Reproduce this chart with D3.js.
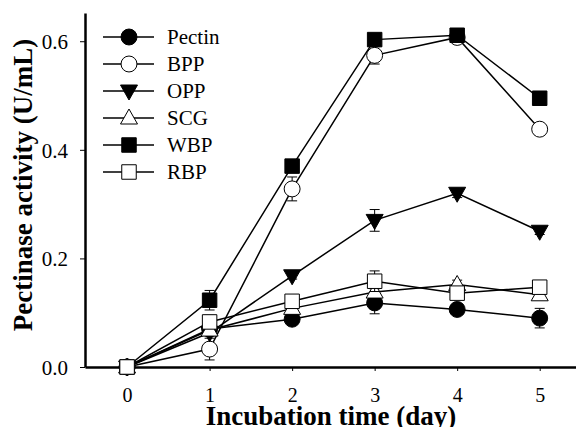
<!DOCTYPE html>
<html>
<head>
<meta charset="utf-8">
<script src="https://cdn.jsdelivr.net/npm/d3@7"></script>
<style>
  body { margin: 0; background: #fff; }
  text { font-family: "Liberation Serif", "Times New Roman", serif; }
</style>
</head>
<body>
<div id="chart"></div>
<script>
// incubation days
var days = [0, 1, 2, 3, 4, 5];

// series values (U/mL)
var pectin = [0, 0.070, 0.088, 0.118, 0.106, 0.090];
var bpp    = [0, 0.033, 0.328, 0.574, 0.607, 0.438];
var opp    = [0, 0.063, 0.168, 0.270, 0.320, 0.250];
var scg    = [0, 0.068, 0.108, 0.138, 0.152, 0.133];
var wbp    = [0, 0.123, 0.370, 0.603, 0.611, 0.495];
var rbp    = [0, 0.083, 0.121, 0.158, 0.136, 0.147];

// error bars (+/-)
var pectinErr = [0, 0, 0.010, 0.020, 0.006, 0.018];
var bppErr    = [0, 0.020, 0.022, 0.016, 0.006, 0.006];
var oppErr    = [0, 0.006, 0.006, 0.020, 0.008, 0.006];
var scgErr    = [0, 0.006, 0.006, 0.006, 0.008, 0.006];
var wbpErr    = [0, 0.018, 0.008, 0.006, 0.008, 0.006];
var rbpErr    = [0, 0.012, 0.006, 0.019, 0.006, 0.006];

var seriesNames = ["Pectin", "BPP", "OPP", "SCG", "WBP", "RBP"];
var yTicks = [0, 0.2, 0.4, 0.6];

var series = [
  { name: "Pectin", values: pectin, err: pectinErr, shape: "circle", fill: "black" },
  { name: "BPP", values: bpp, err: bppErr, shape: "circle", fill: "white" },
  { name: "OPP", values: opp, err: oppErr, shape: "tridown", fill: "black" },
  { name: "SCG", values: scg, err: scgErr, shape: "triup", fill: "white" },
  { name: "WBP", values: wbp, err: wbpErr, shape: "square", fill: "black" },
  { name: "RBP", values: rbp, err: rbpErr, shape: "square", fill: "white" }
];

var chart_width = 576;
var chart_height = 427;

var svg = d3.select('#chart')
  .append('svg')
  .attr('width', chart_width)
  .attr('height', chart_height);

var x = d3.scaleLinear().domain([-0.51, 5.44]).range([85, 576]);
var y = d3.scaleLinear().domain([0, 0.652]).range([367, 13]);

function symbolPath(shape) {
  if (shape == "circle") return d3.symbol(d3.symbolCircle, 200)();
  if (shape == "square") return d3.symbol(d3.symbolSquare, 210)();
  if (shape == "triup") return "M0,-9L8.5,6L-8.5,6Z";
  return "M0,9L8.5,-6L-8.5,-6Z";
}

// axes
var yAxis = svg.append('g')
  .attr('transform', 'translate(85,0)')
  .call(d3.axisLeft(y).tickValues(yTicks).tickFormat(d3.format('.1f')).tickSize(5).tickSizeOuter(0));
yAxis.select('.domain').attr('stroke-width', 2.5);
yAxis.selectAll('.tick line').attr('stroke-width', 1);
yAxis.selectAll('.tick text').attr('font-size', 21).attr('fill', '#000')
  .attr('x', -17).attr('dy', '0.35em');

var xAxis = svg.append('g')
  .attr('transform', 'translate(0,367)')
  .call(d3.axisBottom(x).tickValues(days).tickFormat(d3.format('d')).tickSize(4).tickSizeOuter(0));
xAxis.select('.domain').attr('stroke-width', 2.5);
xAxis.selectAll('.tick line').attr('stroke-width', 1);
xAxis.selectAll('.tick text').attr('font-size', 20).attr('fill', '#000')
  .attr('y', 35).attr('dy', 0);

// axis titles
svg.append('text')
  .text('Incubation time (day)')
  .attr('x', 331)
  .attr('y', 425)
  .attr('text-anchor', 'middle')
  .attr('font-size', 27)
  .attr('font-weight', 'bold');

svg.append('text')
  .text('Pectinase activity (U/mL)')
  .attr('transform', 'translate(32,185) rotate(-90)')
  .attr('text-anchor', 'middle')
  .attr('font-size', 27)
  .attr('font-weight', 'bold');

var line = d3.line()
  .x(function (d, i) { return x(days[i]); })
  .y(function (d) { return y(d); });

series.forEach(function (s) {
  var g = svg.append('g');
  g.append('path')
    .attr('d', line(s.values))
    .attr('fill', 'none')
    .attr('stroke', 'black')
    .attr('stroke-width', 1.5);

  s.values.forEach(function (v, i) {
    var e = s.err[i];
    if (e > 0) {
      var cx = x(days[i]);
      g.append('line').attr('x1', cx).attr('x2', cx)
        .attr('y1', y(v - e)).attr('y2', y(v + e))
        .attr('stroke', 'black').attr('stroke-width', 1);
      [v - e, v + e].forEach(function (ev) {
        g.append('line').attr('x1', cx - 5).attr('x2', cx + 5)
          .attr('y1', y(ev)).attr('y2', y(ev))
          .attr('stroke', 'black').attr('stroke-width', 1);
      });
    }
  });

  g.selectAll('path.pt')
    .data(s.values)
    .enter()
    .append('path')
    .attr('class', 'pt')
    .attr('d', symbolPath(s.shape))
    .attr('transform', function (d, i) { return 'translate(' + x(days[i]) + ',' + y(d) + ')'; })
    .attr('fill', s.fill)
    .attr('stroke', 'black')
    .attr('stroke-width', 1);
});

// legend
var legend = svg.append('g');
series.forEach(function (s, i) {
  var ly = 37 + i * 27;
  legend.append('line')
    .attr('x1', 103).attr('x2', 154)
    .attr('y1', ly).attr('y2', ly)
    .attr('stroke', 'black').attr('stroke-width', 1.5);
  legend.append('path')
    .attr('d', symbolPath(s.shape))
    .attr('transform', 'translate(129,' + ly + ')')
    .attr('fill', s.fill)
    .attr('stroke', 'black')
    .attr('stroke-width', 1);
  legend.append('text')
    .text(seriesNames[i])
    .attr('x', 167)
    .attr('y', ly)
    .attr('dy', '0.35em')
    .attr('font-size', 21);
});
</script>
</body>
</html>
